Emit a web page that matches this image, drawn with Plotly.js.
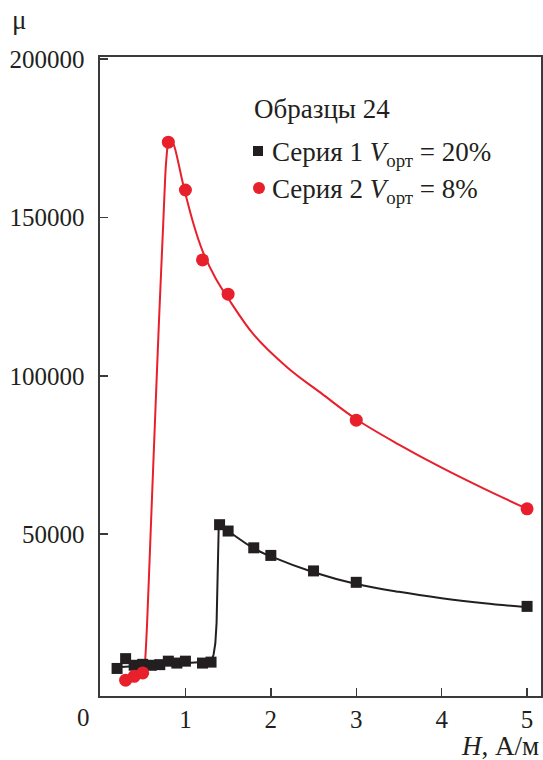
<!DOCTYPE html>
<html>
<head>
<meta charset="utf-8">
<script src="https://cdn.plot.ly/plotly-3.0.1.min.js"></script>
<style>
  html, body { margin: 0; padding: 0; background: #fff; }
  #chart { width: 543px; height: 760px; }
</style>
</head>
<body>
<div id="chart"></div>
<script>
// Series 1 (V_орт = 20%): measured permeability vs field
const s1H  = [0.2, 0.3, 0.4, 0.5, 0.6, 0.7, 0.8, 0.9, 1.0, 1.2, 1.3, 1.4, 1.5, 1.8, 2.0, 2.5, 3.0, 5.0];
const s1Mu = [7600, 10700, 8600, 8900, 8600, 8800, 9900, 9300, 9900, 9300, 9600, 53000, 51000, 45700, 43300, 38400, 34800, 27200];

// Series 2 (V_орт = 8%)
const s2H  = [0.3, 0.4, 0.5, 0.8, 1.0, 1.2, 1.5, 3.0, 5.0];
const s2Mu = [3900, 5100, 6200, 173800, 158700, 136600, 125800, 86000, 58000];

// Smoothed trend curves drawn through each series: low plateau and jump (linear) ...
const fit1aH  = [0.2, 0.5, 0.8, 1.1, 1.3, 1.33, 1.35, 1.365, 1.373, 1.38, 1.39, 1.4];
const fit1aMu = [8000, 8500, 8900, 9300, 9800, 12000, 15500, 22000, 35000, 50000, 52500, 53000];
// ... and the decaying branch (smoothed)
const fit1bH  = [1.4, 1.5, 1.8, 2.0, 2.5, 3.0, 3.5, 4.0, 4.5, 5.0];
const fit1bMu = [53000, 51000, 45500, 43000, 38000, 34300, 31800, 29800, 28200, 26900];

const fit2aH  = [0.5, 0.52, 0.55, 0.6, 0.65, 0.69, 0.74, 0.77, 0.8, 0.83];
const fit2aMu = [6200, 7500, 21000, 55500, 90000, 117000, 148000, 166000, 174000, 175000];
const fit2bH  = [0.83, 0.87, 0.92, 0.96, 1.0, 1.1, 1.2, 1.35, 1.5, 1.8, 2.2, 2.6, 3.0, 3.5, 4.0, 4.5, 5.0];
const fit2bMu = [175000, 172500, 167000, 162000, 157500, 147500, 139500, 131000, 124500, 113000, 102500, 94300, 86300, 78300, 71000, 64300, 58000];

const xTicks = [1, 2, 3, 4, 5];
const yTicks = [50000, 100000, 150000, 200000];

const RED = '#e8202c';
const BLACK = '#231f20';
const AXIS = '#3a3a3a';
const FONT = 'Liberation Serif';

const traces = [
  { x: fit1aH, y: fit1aMu, mode: 'lines', line: { color: BLACK, width: 2 }, hoverinfo: 'skip', showlegend: false },
  { x: fit1bH, y: fit1bMu, mode: 'lines', line: { color: BLACK, width: 2, shape: 'spline', smoothing: 1 }, hoverinfo: 'skip', showlegend: false },
  { x: fit2aH, y: fit2aMu, mode: 'lines', line: { color: RED, width: 2, shape: 'spline', smoothing: 0.5 }, hoverinfo: 'skip', showlegend: false },
  { x: fit2bH, y: fit2bMu, mode: 'lines', line: { color: RED, width: 2, shape: 'spline', smoothing: 1 }, hoverinfo: 'skip', showlegend: false },
  { x: s1H, y: s1Mu, mode: 'markers', marker: { symbol: 'square', size: 11, color: BLACK }, showlegend: false },
  { x: s2H, y: s2Mu, mode: 'markers', marker: { symbol: 'circle', size: 13, color: RED }, showlegend: false }
];

const axisCommon = {
  showline: true, linecolor: AXIS, linewidth: 1.6, mirror: true,
  ticks: 'inside', ticklen: 8, tickwidth: 1.5, tickcolor: AXIS,
  showgrid: false, zeroline: false,
  tickfont: { family: FONT, size: 25, color: '#231f20' }
};

const legendFont = { family: FONT, size: 27, color: '#231f20' };

const layout = {
  width: 543, height: 760,
  font: { family: FONT },
  margin: { l: 100, r: 2, t: 57, b: 64 },
  paper_bgcolor: '#fff', plot_bgcolor: '#fff',
  xaxis: Object.assign({}, axisCommon, {
    range: [0, 5.163], tickmode: 'array', tickvals: xTicks,
    ticklabelstandoff: 0
  }),
  yaxis: Object.assign({}, axisCommon, {
    range: [-1100, 200700], tickmode: 'array', tickvals: yTicks,
    tickformat: 'd', ticklabelstandoff: 9
  }),
  shapes: [
    { type: 'rect', xref: 'paper', yref: 'paper', xsizemode: 'pixel', ysizemode: 'pixel',
      xanchor: 0.3583, yanchor: 0.8529, x0: -5, x1: 5, y0: -5, y1: 5,
      fillcolor: BLACK, line: { width: 0 } },
    { type: 'circle', xref: 'paper', yref: 'paper', xsizemode: 'pixel', ysizemode: 'pixel',
      xanchor: 0.3605, yanchor: 0.795, x0: -6, x1: 6, y0: -6, y1: 6,
      fillcolor: RED, line: { width: 0 } }
  ],
  annotations: [
    { text: 'μ', xref: 'paper', yref: 'paper', x: -0.1848, y: 1.058, xanchor: 'center', yanchor: 'middle',
      showarrow: false, font: legendFont },
    { text: '<i>H</i>, А/м', xref: 'paper', yref: 'paper', x: 1.0, y: -0.079, xanchor: 'right', yanchor: 'middle',
      showarrow: false, font: legendFont },
    { text: '0', xref: 'paper', yref: 'paper', x: -0.0385, y: -0.0344, xanchor: 'center', yanchor: 'middle',
      showarrow: false, font: { family: FONT, size: 25, color: '#231f20' } },
    { text: 'Образцы 24', xref: 'paper', yref: 'paper', x: 0.345, y: 0.9186, xanchor: 'left', yanchor: 'middle',
      showarrow: false, font: legendFont },
    { text: 'Серия 1 <i>V</i><sub>орт</sub> = 20%', xref: 'paper', yref: 'paper', x: 0.386, y: 0.8529,
      xanchor: 'left', yanchor: 'middle', yshift: -3, showarrow: false, font: legendFont },
    { text: 'Серия 2 <i>V</i><sub>орт</sub> = 8%', xref: 'paper', yref: 'paper', x: 0.386, y: 0.795,
      xanchor: 'left', yanchor: 'middle', yshift: -3, showarrow: false, font: legendFont }
  ]
};

Plotly.newPlot('chart', traces, layout, { staticPlot: true, displayModeBar: false });
</script>
</body>
</html>
